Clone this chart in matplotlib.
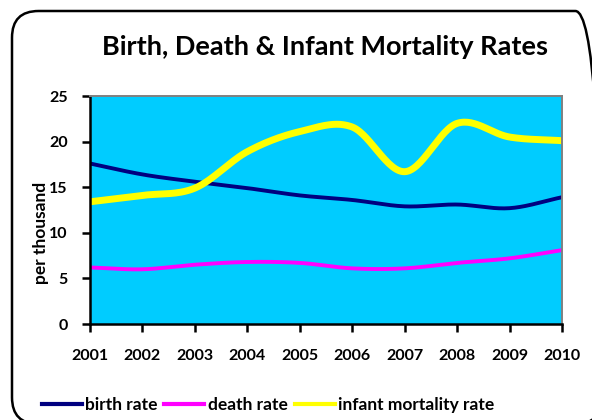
import numpy as np
import matplotlib
matplotlib.use("Agg")
import matplotlib.pyplot as plt
from matplotlib.patches import FancyBboxPatch
from matplotlib.lines import Line2D

years = [2001, 2002, 2003, 2004, 2005, 2006, 2007, 2008, 2009, 2010]
birth_rate = [17.6, 16.4, 15.6, 14.9, 14.1, 13.6, 12.9, 13.1, 12.7, 13.9]
death_rate = [6.2, 6.0, 6.5, 6.8, 6.7, 6.1, 6.1, 6.7, 7.2, 8.1]
infant_mortality_rate = [13.4, 14.1, 14.9, 18.9, 21.1, 21.6, 16.7, 22.0, 20.5, 20.1]
series_names = ["birth rate", "death rate", "infant mortality rate"]
series_colors = ["#000080", "#FF00FF", "#FFFF00"]
title = "Birth, Death & Infant Mortality Rates"
ylabel = "per thousand"


def smooth(x, y, n=30):
    # Catmull-Rom style smoothing (like Excel's smoothed lines)
    x = np.asarray(x, float)
    y = np.asarray(y, float)
    px = np.concatenate([[2 * x[0] - x[1]], x, [2 * x[-1] - x[-2]]])
    py = np.concatenate([[2 * y[0] - y[1]], y, [2 * y[-1] - y[-2]]])
    xs, ys = [], []
    t = np.linspace(0, 1, n, endpoint=False)
    for i in range(1, len(px) - 2):
        p0, p1, p2, p3 = (np.array([px[j], py[j]]) for j in range(i - 1, i + 3))
        t2, t3 = t * t, t * t * t
        pts = 0.5 * ((2 * p1)[:, None] + (-p0 + p2)[:, None] * t
                     + (2 * p0 - 5 * p1 + 4 * p2 - p3)[:, None] * t2
                     + (-p0 + 3 * p1 - 3 * p2 + p3)[:, None] * t3)
        xs.extend(pts[0]); ys.extend(pts[1])
    xs.append(x[-1]); ys.append(y[-1])
    return np.array(xs), np.array(ys)


W, H = 592, 420
fig = plt.figure(figsize=(W / 100, H / 100), dpi=100)
fig.patch.set_facecolor("white")

# rounded outer border (extends past right and bottom edges)
box = FancyBboxPatch((12 / W, -4 / H), 590 / W, 413 / H,
                     boxstyle="round,pad=0,rounding_size=0.045",
                     transform=fig.transFigure, facecolor="none",
                     edgecolor="black", linewidth=1.8, clip_on=False,
                     mutation_aspect=W / H)
fig.patches.append(box)

ax = fig.add_axes([90 / W, 1 - 324 / H, (562 - 90) / W, (324 - 96) / H])
ax.set_facecolor("#00CCFF")

data = [birth_rate, death_rate, infant_mortality_rate]
widths = [2.8, 2.8, 5.0]
for vals, c, lw in zip(data, series_colors, widths):
    sx, sy = smooth(years, vals)
    ax.plot(sx, sy, color=c, linewidth=lw, solid_capstyle="butt")

ax.set_xlim(years[0], years[-1])
ax.set_ylim(0, 25)
ax.set_yticks([0, 5, 10, 15, 20, 25])
ax.set_xticks(years)
ax.set_xticklabels([str(y) for y in years])
for s in ["top", "right"]:
    ax.spines[s].set_color("#808080")
    ax.spines[s].set_linewidth(1.4)
for s in ["left", "bottom"]:
    ax.spines[s].set_color("black")
    ax.spines[s].set_linewidth(1.8)
ax.tick_params(axis="both", direction="out", length=6, width=1.8, color="black",
               labelsize=11.5)
ax.tick_params(axis="x", pad=12)
ax.tick_params(axis="y", pad=10)
for lab in ax.get_xticklabels() + ax.get_yticklabels():
    lab.set_fontweight("bold")
    lab.set_family("Lato")

ax.set_ylabel(ylabel, fontsize=12.5, fontfamily="Lato", fontweight="bold", labelpad=2)
ax.yaxis.set_label_coords(-(90 - 49) / (562 - 90), 0.4)

fig.text(325 / W, 1 - 47 / H, title, ha="center", va="center",
         fontsize=19.5, fontweight="bold", fontfamily="Lato")

handles = [Line2D([], [], color=c, linewidth=3) for c in series_colors]
leg = fig.legend(handles, series_names, loc="center", bbox_to_anchor=(268 / W, 1 - 405 / H),
                 ncol=3, frameon=False, handlelength=2.3, handletextpad=0.2,
                 columnspacing=0.4, borderpad=0, borderaxespad=0,
                 prop={"family": "Lato", "weight": "bold", "size": 12.5})

fig.savefig("out.png", dpi=100)
